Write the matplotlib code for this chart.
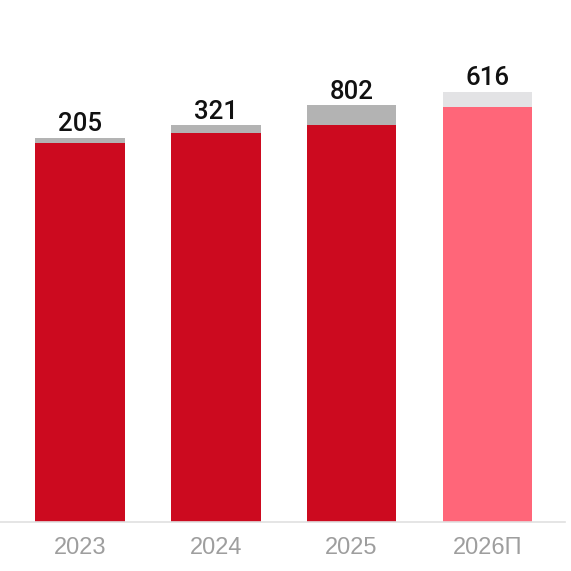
import matplotlib
matplotlib.use("Agg")
import matplotlib.pyplot as plt

categories = ["2023", "2024", "2025", "2026П"]
base_values = [15150, 15550, 15870, 16590]
top_values = [205, 321, 802, 616]
labels = ["205", "321", "802", "616"]
base_colors = ["#CC0A1F", "#CC0A1F", "#CC0A1F", "#FF6679"]
top_colors = ["#B3B3B3", "#B3B3B3", "#B3B3B3", "#E3E3E5"]

W = H = 571
fig = plt.figure(figsize=(W / 100, H / 100), dpi=100)
ax = fig.add_axes([0, (H - 522) / H, 565 / W, 522 / H])

x = list(range(len(categories)))
ax.bar(x, base_values, width=0.66, color=base_colors, linewidth=0)
ax.bar(x, top_values, bottom=base_values, width=0.66, color=top_colors, linewidth=0)

for xi, b, t, lab in zip(x, base_values, top_values, labels):
    ax.annotate(lab, (xi, b + t), xytext=(0, 4.8), textcoords="offset points",
                ha="center", va="baseline", fontsize=18.5, fontweight="medium",
                family=["Roboto", "Liberation Sans"], color="#111111")

ax.set_ylim(0, 522 * 40)
ax.set_xlim(-80 / 135.8, (565 - 80) / 135.8)
ax.set_xticks(x)
ax.set_xticklabels(categories, fontsize=17, family="Liberation Sans", color="#9E9E9E")
ax.tick_params(axis="x", length=0, pad=10.5)
ax.set_yticks([])
for s in ["top", "left", "right"]:
    ax.spines[s].set_visible(False)
ax.spines["bottom"].set_color("#E0E0E0")
ax.spines["bottom"].set_linewidth(1.2)

fig.savefig("out.png", dpi=100)
